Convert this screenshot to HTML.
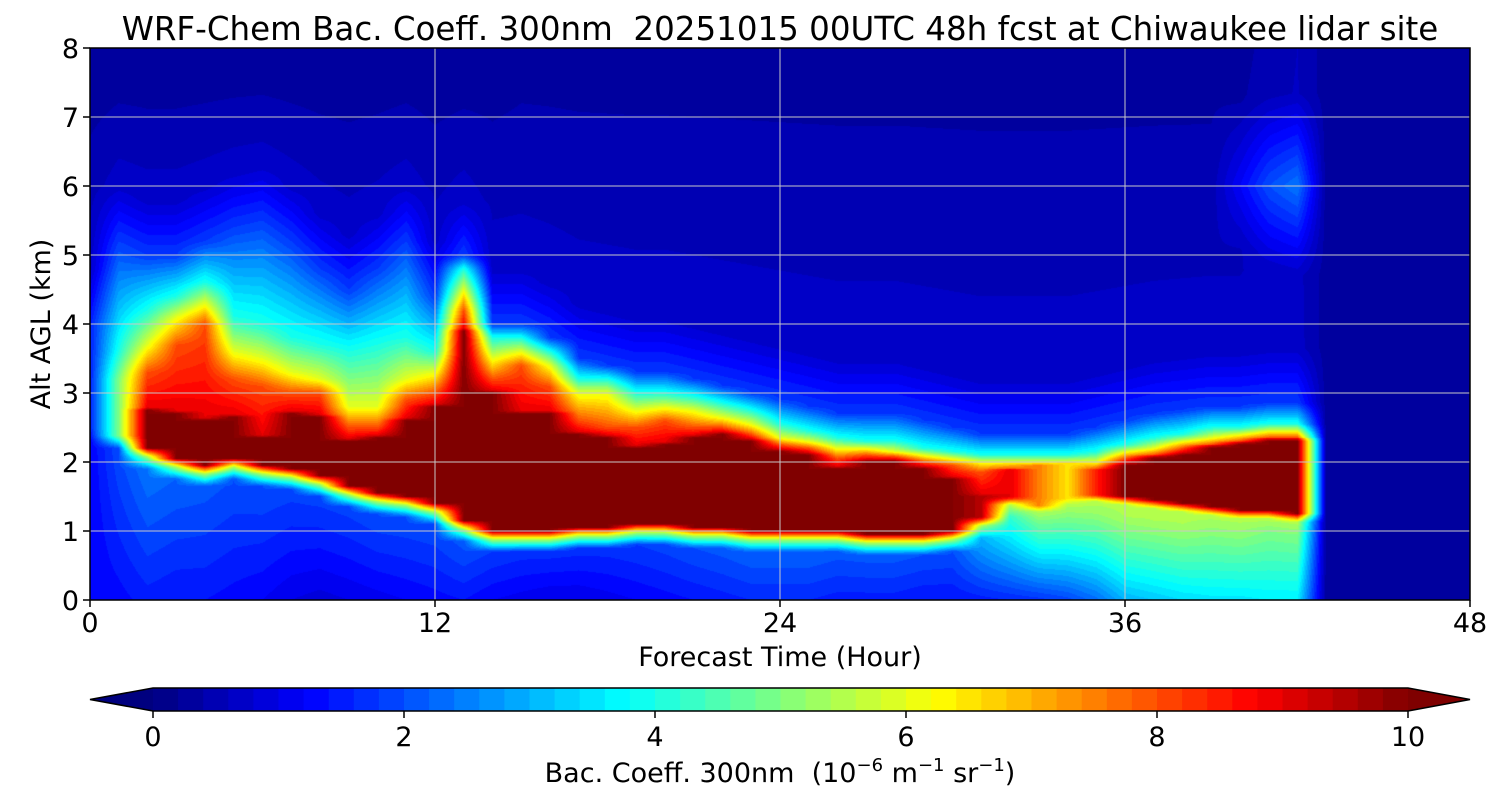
<!DOCTYPE html>
<html><head><meta charset="utf-8">
<style>
body{margin:0;background:#fff;}
#wrap{position:relative;width:1500px;height:800px;font-family:"DejaVu Sans","Liberation Sans",sans-serif;color:#000;}
canvas{position:absolute;left:90px;top:48px;}
svg{position:absolute;left:0;top:0;}
svg text{white-space:pre;}
</style></head>
<body>
<div id="wrap">
<canvas id="cv" width="1380" height="552"></canvas>
<svg id="sv" width="1500" height="800"></svg>
</div>
<script>
// hourly columns 0..48 (km / 1e-6 m^-1 sr^-1)
const hours = [0,1,2,3,4,5,6,7,8,9,10,11,12,13,14,15,16,17,18,19,20,21,22,23,24,25,26,27,28,29,30,31,32,33,34,35,36,37,38,39,40,41,42,43,44,45,46,47,48];
const coreBot = [2.6,2.5,2.2,2.05,1.95,2.05,1.95,1.9,1.8,1.65,1.55,1.5,1.4,1.15,1.0,1.0,1.0,1.05,1.05,1.1,1.1,1.05,1.05,1.0,1.0,1.0,1.0,0.95,0.95,0.95,1.0,1.2,1.5,1.4,1.5,1.55,1.5,1.45,1.4,1.35,1.3,1.3,1.25,1.5,2,2,2,2,2];
const coreTop = [2.75,2.75,2.75,2.7,2.6,2.65,2.35,2.7,2.65,2.3,2.35,2.6,2.8,3.9,3.0,2.7,2.7,2.4,2.35,2.2,2.25,2.35,2.4,2.3,2.15,2.1,1.9,2.0,2.0,1.9,1.75,1.5,1.85,1.9,1.95,1.85,1.95,2.05,2.1,2.2,2.25,2.3,2.3,2.0,2,2,2,2,2];
const redTop = [2.8,2.9,3.3,3.7,4.0,3.2,3.1,3.0,3.0,2.5,2.5,2.9,3.0,4.2,3.2,3.4,3.1,2.6,2.5,2.5,2.6,2.5,2.5,2.4,2.25,2.2,2.05,2.1,2.08,2.0,1.95,1.85,1.9,1.95,2.0,1.9,2.05,2.1,2.2,2.25,2.3,2.35,2.35,2.1,2.1,2.1,2.1,2.1,2.1];
const yellowTop = [2.9,3.2,3.7,4.1,4.3,3.6,3.5,3.3,3.2,2.8,2.8,3.2,3.3,4.5,3.5,3.6,3.4,3.0,3.0,2.75,2.8,2.75,2.65,2.55,2.35,2.3,2.2,2.2,2.15,2.1,2.05,2.0,2.0,2.0,2.0,2.0,2.15,2.2,2.3,2.35,2.4,2.45,2.45,2.2,2.2,2.2,2.2,2.2,2.2];
const cyanTop = [3.0,3.6,4.2,4.4,4.6,4.1,4.0,3.8,3.7,3.6,3.7,3.8,3.6,4.8,3.8,3.8,3.6,3.2,3.2,3.0,3.0,2.95,2.85,2.75,2.55,2.45,2.35,2.3,2.3,2.2,2.15,2.1,2.1,2.1,2.1,2.15,2.25,2.35,2.4,2.5,2.5,2.55,2.55,2.4,2.4,2.4,2.4,2.4,2.4];
const blueTop = [4.0,5.2,5.0,5.0,5.2,5.4,5.5,5.2,4.8,4.5,4.8,5.2,4.4,5.0,4.0,4.0,3.8,3.5,3.4,3.3,3.3,3.2,3.1,3.0,2.9,2.8,2.7,2.7,2.7,2.6,2.5,2.4,2.4,2.4,2.4,2.5,2.6,2.7,2.75,2.8,2.8,2.85,2.85,2.8,2.8,2.8,2.8,2.8,2.8];
const peak = [1.5,5,10,10,10,10,10,10,10,10,10,10,10,10,10,10,10,10,10,10,10,10,10,10,10,10,10,10,10,10,10,9.5,9,7.5,6.5,8.5,10,10,10,10,10,10,10,0.3,0.3,0.3,0.3,0.3,0.3];
const lowVal = [1.2,1.3,1.5,1.4,1.4,1.3,1.2,1.0,0.9,1.0,1.1,1.2,1.3,1.4,1.2,1.1,1.0,1.0,1.1,1.2,1.3,1.4,1.5,1.6,1.6,1.6,1.5,1.5,1.5,1.4,1.4,1.5,1.6,1.7,1.9,2.3,3.0,3.2,3.4,3.5,3.5,3.6,3.6,0.3,0.3,0.3,0.3,0.3,0.3];
const midVal = [1.2,2.0,2.4,2.2,2.1,2.0,2.0,1.9,1.9,1.9,2.0,2.0,2.0,2.1,1.8,1.7,1.7,1.7,1.7,1.8,1.9,2.0,2.1,2.2,2.2,2.2,2.1,2.1,2.1,2.0,2.0,3.0,4.2,4.8,5.0,5.2,5.4,5.4,5.4,5.2,5.2,5.0,5.0,0.3,0.3,0.3,0.3,0.3,0.3];
const topVal = [0.2,0.2,0.2,0.2,0.2,0.2,0.2,0.2,0.2,0.2,0.2,0.2,0.2,0.2,0.25,0.3,0.3,0.3,0.3,0.3,0.3,0.3,0.3,0.3,0.3,0.3,0.3,0.3,0.3,0.3,0.3,0.3,0.3,0.3,0.3,0.3,0.3,0.3,0.3,0.3,0.3,0.5,0.6,0.3,0.3,0.3,0.3,0.3,0.3];
const plume = [0,0,0,0,0,0,0,0,0,0,0,0,0,0,0,0,0,0,0,0,0,0,0,0,0,0,0,0,0,0,0,0,0,0,0,0,0,0,0,0,1.2,2.0,2.4,0,0,0,0,0,0];
const xTicks = [0,12,24,36,48];
const yTicks = [0,1,2,3,4,5,6,7,8];
const cbTicks = [0,2,4,6,8,10];

const PL=90, PR=1470, PT=48, PB=600;
const xs = t => PL + (t/48)*(PR-PL);
const ys = z => PB - (z/8)*(PB-PT);
const zOf = py => (PB - py)/(PB-PT)*8;

function jet(v){
  let x=Math.max(0,Math.min(1,v/10));
  const c=a=>Math.round(255*Math.max(0,Math.min(1,a)));
  return [c(1.5-Math.abs(4*x-3)),c(1.5-Math.abs(4*x-2)),c(1.5-Math.abs(4*x-1))];
}
function interp(pts,z){
  for(let k=1;k<pts.length;k++){ if(pts[k][0]<=pts[k-1][0]) pts[k][0]=pts[k-1][0]+0.001; }
  if(z<=pts[0][0]) return pts[0][1];
  for(let k=1;k<pts.length;k++){
    if(z<=pts[k][0]){const a=pts[k-1],b=pts[k];return a[1]+(b[1]-a[1])*(z-a[0])/(b[0]-a[0]);}
  }
  return pts[pts.length-1][1];
}
function colVal(i,z){
  const p=peak[i];let v;
  if(z>=coreBot[i]&&z<=coreTop[i]) v=p;
  else if(z>coreTop[i]){
    const bt=blueTop[i];
    v=interp([[coreTop[i],p],[coreTop[i]+0.04,Math.min(9,p)],[redTop[i],Math.min(8,p)],[yellowTop[i],Math.min(6,p)],[cyanTop[i],Math.min(4,p)],[bt,Math.min(1.8,p)],[Math.min(bt+0.8,7.9),Math.min(0.7,p)],[8,topVal[i]]],z);
  } else {
    const cb=coreBot[i];
    v=interp([[0,lowVal[i]],[Math.max(0.01,cb-0.3),midVal[i]],[Math.max(0.02,cb-0.12),Math.max(midVal[i],Math.min(5.5,p))],[Math.max(0.03,cb-0.03),Math.min(8.5,p)],[cb,p]],z);
  }
  v=Math.max(v,plume[i]*Math.max(0,1-Math.abs(z-6.0)/1.8));
  return v;
}
// heatmap
const cv=document.getElementById('cv'),ctx=cv.getContext('2d');
const W=1380,H=552,img=ctx.createImageData(W,H);
const cols=[];
for(let i=0;i<hours.length;i++){const a=new Float32Array(H);for(let r=0;r<H;r++)a[r]=colVal(i,zOf(PT+r+0.5));cols.push(a);}
for(let px=0;px<W;px++){
  const t=(px+0.5)/W*48;let i=Math.min(47,Math.floor(t));const f=t-i;
  for(let r=0;r<H;r++){
    let v=cols[i][r]*(1-f)+cols[i+1][r]*f;
    v=Math.floor(v/0.2)*0.2+0.1;
    const c=jet(v),o=(r*W+px)*4;
    img.data[o]=c[0];img.data[o+1]=c[1];img.data[o+2]=c[2];img.data[o+3]=255;
  }
}
ctx.putImageData(img,0,0);

// overlay
const sv=document.getElementById('sv'),NS='http://www.w3.org/2000/svg';
const FF='DejaVu Sans, Liberation Sans, sans-serif';
function el(tag,attrs,parent){const e=document.createElementNS(NS,tag);for(const k in attrs)e.setAttribute(k,attrs[k]);(parent||sv).appendChild(e);return e;}
function txt(s,x,y,size,anchor,name){const e=el('text',{x:x,y:y,'font-size':size,'text-anchor':anchor||'middle','font-family':FF});e.textContent=s;


return e;}

xTicks.forEach(t=>{
  if(t>0&&t<48){const g=el('line',{x1:xs(t),x2:xs(t),y1:PT,y2:PB,stroke:'#c8c8c8','stroke-width':1});
  
  }
  const tk=el('line',{x1:xs(t),x2:xs(t),y1:PB,y2:PB+7,stroke:'#000','stroke-width':1.5});
  
  
  txt(String(t),xs(t),PB+32,27,'middle','x-tick-label');
});
yTicks.forEach(z=>{
  if(z>0&&z<8){const g=el('line',{x1:PL,x2:PR,y1:ys(z),y2:ys(z),stroke:'#c8c8c8','stroke-width':1});
  
  }
  const tk=el('line',{x1:PL-7,x2:PL,y1:ys(z),y2:ys(z),stroke:'#000','stroke-width':1.5});
  
  
  txt(String(z),PL-11,ys(z)+10,27,'end','y-tick-label');
});
const fr=el('rect',{x:PL,y:PT,width:PR-PL,height:PB-PT,fill:'none',stroke:'#000','stroke-width':1.5});


txt('WRF-Chem Bac. Coeff. 300nm  20251015 00UTC 48h fcst at Chiwaukee lidar site',780,40,32.5,'middle','chart-title');
txt('Forecast Time (Hour)',780,666,27,'middle','x-axis-title');
const yl=txt('Alt AGL (km)',0,0,27,'middle','y-axis-title');
yl.setAttribute('transform','translate(50,324) rotate(-90)');

// colorbar
const CL=153,CR=1408,CT=688,CB=711;
const g=el('g',{});


const n=50,w=(CR-CL)/n;
for(let k=0;k<n;k++){const c=jet((k+0.5)*10/n);
  const r=el('rect',{x:CL+k*w,y:CT,width:w+0.6,height:CB-CT,fill:`rgb(${c[0]},${c[1]},${c[2]})`},g);
  
  }
const lt=el('polygon',{points:`${CL},${CT} 90,${(CT+CB)/2} ${CL},${CB}`,fill:'#00007f'},g);


const rt=el('polygon',{points:`${CR},${CT} 1470,${(CT+CB)/2} ${CR},${CB}`,fill:'#7f0000'},g);


const ol=el('polygon',{points:`90,${(CT+CB)/2} ${CL},${CT} ${CR},${CT} 1470,${(CT+CB)/2} ${CR},${CB} ${CL},${CB}`,fill:'none',stroke:'#000','stroke-width':1.5},g);


cbTicks.forEach(v=>{const x=CL+(CR-CL)*v/10;
  const tk=el('line',{x1:x,x2:x,y1:CB,y2:CB+7,stroke:'#000','stroke-width':1.5});
  
  
  txt(String(v),x,CB+35,27,'middle','colorbar-tick-label');});
const lab=txt('',780,782,27,'middle','colorbar-title');
lab.innerHTML='Bac. Coeff. 300nm  (10<tspan dy="-11" font-size="18">−6</tspan><tspan dy="11"> m</tspan><tspan dy="-11" font-size="18">−1</tspan><tspan dy="11"> sr</tspan><tspan dy="-11" font-size="18">−1</tspan><tspan dy="11">)</tspan>';
</script>
</body></html>
